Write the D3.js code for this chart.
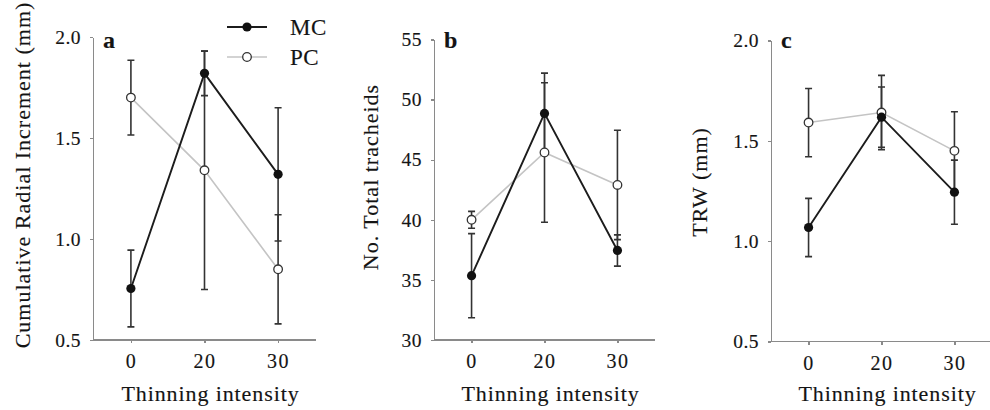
<!DOCTYPE html>
<html>
<head>
<meta charset="utf-8">
<script src="https://cdn.jsdelivr.net/npm/d3@7"></script>
<style>
  html, body { margin: 0; padding: 0; background: #fff; }
  svg { display: block; }
  text { font-family: "Liberation Serif", "Times New Roman", serif; fill: #141414; stroke: #141414; stroke-width: 0.15px; }
</style>
</head>
<body>
<svg id="chart" width="990" height="410"></svg>
<script>
// Thinning intensity levels (x categories)
const thinning = ["0", "20", "30"];

// (a) Cumulative radial increment (mm): mean and error
const mcRadial = [0.755, 1.82, 1.32];
const mcRadialErr = [0.19, 0.11, 0.33];
const pcRadial = [1.70, 1.34, 0.85];
const pcRadialErr = [0.185, 0.59, 0.27];

// (b) Number of total tracheids
const mcTracheids = [35.35, 48.85, 37.45];
const mcTracheidsErr = [3.5, 3.35, 1.3];
const pcTracheids = [40.0, 45.6, 42.9];
const pcTracheidsErr = [0.7, 5.8, 4.55];

// (c) Tree-ring width (mm)
const mcTRW = [1.068, 1.618, 1.244];
const mcTRWErr = [0.145, 0.15, 0.16];
const pcTRW = [1.591, 1.641, 1.45];
const pcTRWErr = [0.17, 0.185, 0.195];

// Axis tick labels
const ticksMM = [0.5, 1.0, 1.5, 2.0];
const ticksTracheids = [30, 35, 40, 45, 50, 55];

const seriesNames = ["MC", "PC"];

const svg = d3.select("#chart");

const AXIS_COLOR = "#8a8a8a";
const ERR_COLOR = "#333";
const MC_COLOR = "#1c1c1c";
const PC_COLOR = "#c4c4c4";

const panels = [
  {
    letter: "a", left: 93, right: 316, top: 37, bottom: 340,
    domain: [0.5, 2.0], ticks: ticksMM, fmt: d3.format(".1f"),
    mc: mcRadial, mcErr: mcRadialErr, pc: pcRadial, pcErr: pcRadialErr,
    ylabel: "Cumulative Radial Increment (mm)", ylabelX: 30, ylabelY: 175
  },
  {
    letter: "b", left: 434, right: 655, top: 39.5, bottom: 340,
    domain: [30, 55], ticks: ticksTracheids, fmt: d3.format("d"),
    mc: mcTracheids, mcErr: mcTracheidsErr, pc: pcTracheids, pcErr: pcTracheidsErr,
    ylabel: "No. Total tracheids", ylabelX: 378, ylabelY: 177
  },
  {
    letter: "c", left: 771, right: 992, top: 40.5, bottom: 341.5,
    domain: [0.5, 2.0], ticks: ticksMM, fmt: d3.format(".1f"),
    mc: mcTRW, mcErr: mcTRWErr, pc: pcTRW, pcErr: pcTRWErr,
    ylabel: "TRW (mm)", ylabelX: 707, ylabelY: 182
  }
];

panels.forEach(p => {
  const g = svg.append("g");

  const x = d3.scalePoint().domain(thinning).range([p.left, p.right]).padding(0.515);
  const y = d3.scaleLinear().domain(p.domain).range([p.bottom, p.top]);

  // Y axis
  const yAxis = g.append("g")
    .attr("transform", `translate(${p.left},0)`)
    .call(d3.axisLeft(y).tickValues(p.ticks).tickFormat(p.fmt).tickSize(3).tickPadding(9).tickSizeOuter(0));
  yAxis.select(".domain").attr("stroke", AXIS_COLOR).attr("stroke-width", 1.4);
  yAxis.selectAll(".tick line").attr("stroke", AXIS_COLOR).attr("stroke-width", 1.4);
  yAxis.selectAll(".tick text")
    .attr("font-size", 19.5).attr("letter-spacing", "0.5px")
    .attr("font-family", "Liberation Serif").attr("fill", "#141414");

  // X axis
  const xAxis = g.append("g")
    .attr("transform", `translate(0,${p.bottom})`)
    .call(d3.axisBottom(x).tickSize(3).tickPadding(11).tickSizeOuter(0));
  xAxis.select(".domain").attr("stroke", AXIS_COLOR).attr("stroke-width", 1.4)
    .attr("d", `M${p.left},0H${p.right}`);
  xAxis.selectAll(".tick line").attr("stroke", AXIS_COLOR).attr("stroke-width", 1.4);
  xAxis.selectAll(".tick text")
    .attr("font-size", 20).attr("letter-spacing", "1.5px")
    .attr("font-family", "Liberation Serif").attr("fill", "#141414");

  g.selectAll(".domain, .tick line").attr("shape-rendering", "crispEdges");

  // Axis titles
  g.append("text")
    .attr("x", (x("0") + x("30")) / 2 + 6)
    .attr("y", 401)
    .attr("text-anchor", "middle")
    .attr("font-size", 22)
    .attr("letter-spacing", "0.9px")
    .text("Thinning intensity");

  g.append("text")
    .attr("transform", `translate(${p.ylabelX},${p.ylabelY}) rotate(-90)`)
    .attr("text-anchor", "middle")
    .attr("font-size", 22)
    .attr("letter-spacing", "1px")
    .text(p.ylabel);

  // Panel letter
  g.append("text")
    .attr("x", p.left + 10)
    .attr("y", 48)
    .attr("font-size", 24)
    .attr("font-weight", "bold")
    .text(p.letter);

  const rows = thinning.map((t, i) => ({
    t, mc: p.mc[i], mcErr: p.mcErr[i], pc: p.pc[i], pcErr: p.pcErr[i]
  }));

  const line = key => d3.line().x(d => x(d.t)).y(d => y(d[key]));

  // PC line underneath, MC line above it
  g.append("path").datum(rows)
    .attr("d", line("pc")).attr("fill", "none")
    .attr("stroke", PC_COLOR).attr("stroke-width", 1.6);
  g.append("path").datum(rows)
    .attr("d", line("mc")).attr("fill", "none")
    .attr("stroke", MC_COLOR).attr("stroke-width", 1.9);

  // Error bars for both series
  const capW = 3.5;
  ["pc", "mc"].forEach(key => {
    const eg = g.append("g").attr("stroke", ERR_COLOR).attr("stroke-width", 1.6).attr("fill", "none");
    rows.forEach(d => {
      const cx = x(d.t);
      const y1 = y(d[key] + d[key + "Err"]);
      const y0 = y(d[key] - d[key + "Err"]);
      eg.append("path")
        .attr("d", `M${cx},${y1}V${y0}M${cx - capW},${y1}H${cx + capW}M${cx - capW},${y0}H${cx + capW}`);
    });
  });

  // Markers
  g.selectAll(".pc-dot").data(rows).join("circle")
    .attr("cx", d => x(d.t)).attr("cy", d => y(d.pc)).attr("r", 4.3)
    .attr("fill", "#fff").attr("stroke", "#333").attr("stroke-width", 1.3);
  g.selectAll(".mc-dot").data(rows).join("circle")
    .attr("cx", d => x(d.t)).attr("cy", d => y(d.mc)).attr("r", 4.6)
    .attr("fill", "#111");
});

// Legend (top of panel a)
const legend = svg.append("g");
const legendRows = [
  { name: seriesNames[0], y: 27, stroke: MC_COLOR, fill: "#111", dotStroke: "none", r: 4.6, w: 1.9 },
  { name: seriesNames[1], y: 57, stroke: PC_COLOR, fill: "#fff", dotStroke: "#333", r: 4.3, w: 1.6 }
];
legendRows.forEach(r => {
  legend.append("line")
    .attr("x1", 227).attr("x2", 267).attr("y1", r.y).attr("y2", r.y)
    .attr("stroke", r.stroke).attr("stroke-width", r.w);
  legend.append("circle")
    .attr("cx", 247).attr("cy", r.y).attr("r", r.r)
    .attr("fill", r.fill).attr("stroke", r.dotStroke).attr("stroke-width", 1.3);
  legend.append("text")
    .attr("x", 290).attr("y", r.y + 8)
    .attr("font-size", 23)
    .attr("letter-spacing", "0.5px")
    .text(r.name);
});
</script>
</body>
</html>
